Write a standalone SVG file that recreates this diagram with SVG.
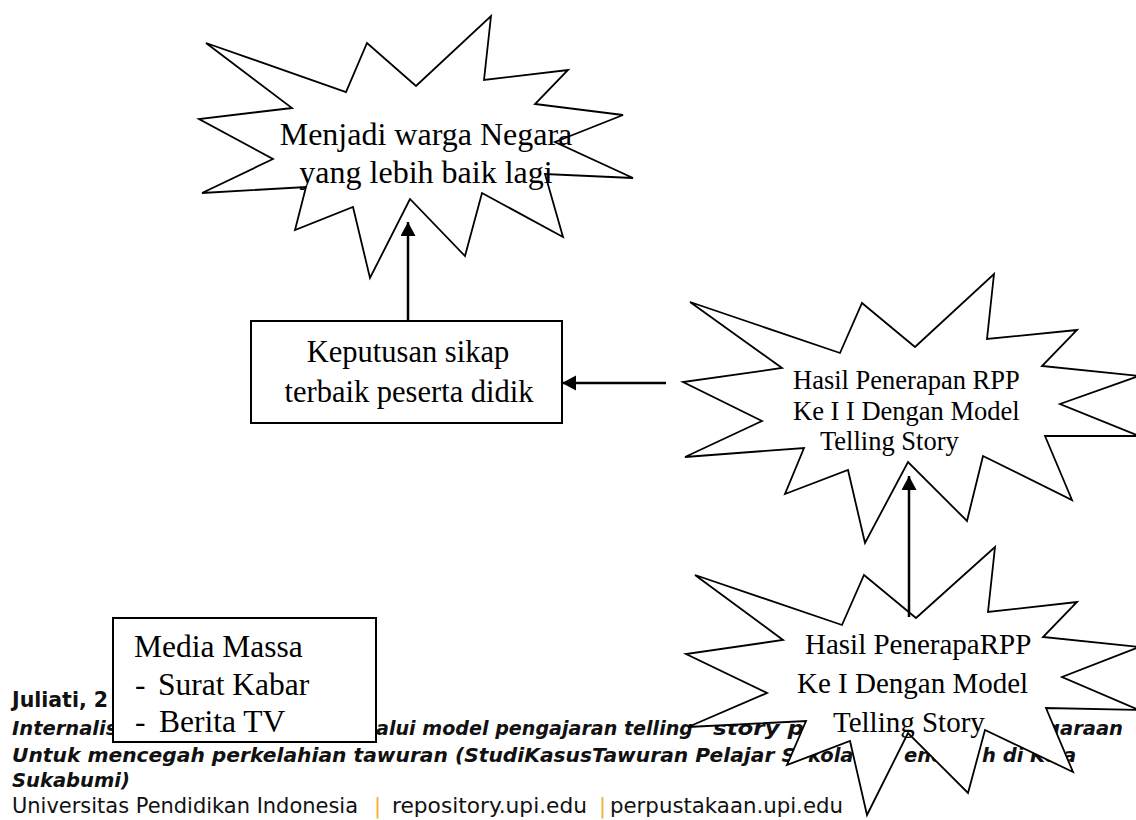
<svg xmlns="http://www.w3.org/2000/svg" width="1136" height="820" viewBox="0 0 1136 820">
<style>
.star{fill:#fff;stroke:#000;stroke-width:1.8;stroke-linejoin:miter}
.box{fill:#fff;stroke:#000;stroke-width:2}
.serif{font-family:"Liberation Serif","Times New Roman",serif;fill:#000}
.fb{font-family:"DejaVu Sans",Verdana,sans-serif;font-weight:bold;font-size:20.5px;fill:#111}
.fbi{font-family:"DejaVu Sans",Verdana,sans-serif;font-weight:bold;font-style:italic;font-size:19.5px;fill:#111}
.fr{font-family:"DejaVu Sans",Verdana,sans-serif;font-size:21px;fill:#111}
.bar{fill:#f2b02a}
.conn{stroke:#000;stroke-width:2.5;fill:none;marker-end:url(#ah)}
</style>
<defs>
<marker id="ah" markerUnits="userSpaceOnUse" markerWidth="16" markerHeight="16" refX="14" refY="7.5" orient="auto">
<path d="M0,0 L14,7.5 L0,15 z" fill="#000"/>
</marker>
</defs>
<rect width="1136" height="820" fill="#fff"/>
<g id="footer">
<text class="fb" x="12" y="707">Juliati, 2</text>
<text class="fbi" x="12" y="735">Internalis</text>
<text class="fbi" x="376" y="735" textLength="317" lengthAdjust="spacingAndGlyphs">alui model pengajaran telling</text>
<text class="fbi" x="713" y="735" textLength="91" lengthAdjust="spacingAndGlyphs">story p</text>
<text class="fbi" x="1046" y="735" textLength="77" lengthAdjust="spacingAndGlyphs">garaan</text>
<text class="fbi" x="12" y="762" textLength="784" lengthAdjust="spacingAndGlyphs">Untuk mencegah perkelahian tawuran (StudiKasusTawuran Pelajar S</text>
<text class="fbi" x="808" y="762">kola</text>
<text class="fbi" x="904" y="762">enen</text>
<text class="fbi" x="982" y="762">h di Ko</text>
<text class="fbi" x="1063" y="762">a</text>
<text class="fbi" x="12" y="787">Sukabumi)</text>
<text class="fr" x="12" y="813" textLength="346" lengthAdjust="spacingAndGlyphs">Universitas Pendidikan Indonesia</text>
<text class="fr bar" x="374" y="813">|</text>
<text class="fr" x="392" y="813" textLength="195" lengthAdjust="spacingAndGlyphs">repository.upi.edu</text>
<text class="fr bar" x="599" y="813">|</text>
<text class="fr" x="610" y="813" textLength="233" lengthAdjust="spacingAndGlyphs">perpustakaan.upi.edu</text>
</g>
<g id="node-warga">
<polygon class="star" points="206,43 346,92 367,43 416,86 491,16 484,80 568,70 535,104 623,115 555,142 633,178 545,174 563,237 482,193 465,256 410,199 370,278 353,207 295,230 306,187 202,193 273,159 199,119 292,108"/>
<text class="serif" font-size="32" text-anchor="middle" x="426" y="145">Menjadi warga Negara</text>
<text class="serif" font-size="32" text-anchor="middle" x="426" y="183">yang lebih baik lagi</text>
</g>
<g id="node-keputusan">
<rect class="box" x="251" y="321" width="311" height="102"/>
<text class="serif" font-size="30.5" text-anchor="middle" x="408" y="362">Keputusan sikap</text>
<text class="serif" font-size="30.5" text-anchor="middle" x="409" y="402">terbaik peserta didik</text>
</g>
<g id="node-rpp2">
<polygon class="star" points="690,302 840,353 862,303 915,347 994,274 987,339 1077,330 1042,366 1139,376 1060,404 1139,436 1045,436 1072,500 983,456 967,521 908,462 865,543 848,470 785,494 804,448 685,457 762,421 683,382 782,368"/>
<text class="serif" font-size="26.5" x="793" y="389">Hasil Penerapan RPP</text>
<text class="serif" font-size="26.5" x="793" y="420">Ke I I Dengan Model</text>
<text class="serif" font-size="26.5" x="820" y="450">Telling Story</text>
</g>
<g id="node-rpp1">
<polygon class="star" points="695,575 842,625 864,575 916,618 995,547 988,612 1077,602 1043,637 1139,647 1062,677 1139,710 1046,708 1073,772 985,730 968,793 908,733 867,815 850,741 787,765 806,721 688,727 767,693 686,654 783,640"/>
<text class="serif" font-size="29" x="805" y="654">Hasil PenerapaRPP</text>
<text class="serif" font-size="29" x="797" y="693">Ke I Dengan Model</text>
<text class="serif" font-size="29" x="833" y="732">Telling Story</text>
</g>
<g id="node-media">
<rect class="box" x="113" y="618" width="263" height="124"/>
<text class="serif" font-size="31.5" x="134" y="657">Media Massa</text>
<text class="serif" font-size="31.5" x="135" y="695">-</text>
<text class="serif" font-size="31.5" x="158" y="695">Surat Kabar</text>
<text class="serif" font-size="31.5" x="135" y="732">-</text>
<text class="serif" font-size="31.5" x="159" y="732">Berita TV</text>
</g>
<g id="connectors">
<line class="conn" x1="408" y1="321" x2="408" y2="222"/>
<line class="conn" x1="666" y1="383" x2="562" y2="383"/>
<line class="conn" x1="909" y1="617" x2="909" y2="476"/>
</g>
</svg>
